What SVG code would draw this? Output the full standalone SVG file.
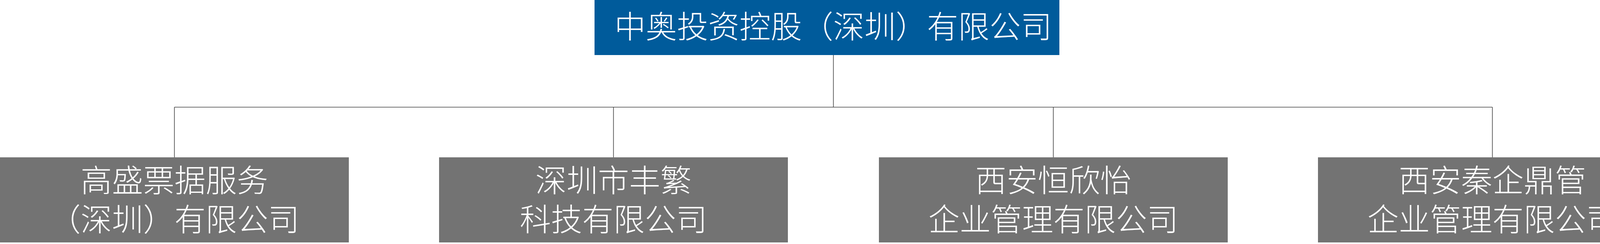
<svg xmlns="http://www.w3.org/2000/svg" width="4267" height="625" viewBox="0 0 4267 625">
<style>
.top{fill:#005B9B}
.sub{fill:#737373}
.t{font-family:"Noto Sans CJK SC","Noto Sans CJK JP",sans-serif;font-weight:300;font-size:80px;fill:#FFFFFF;text-anchor:middle}
.c{stroke:#404040;stroke-width:1.6;fill:none}
</style>
<rect width="4267" height="625" fill="#FFFFFF"/>
<g id="connectors">
<path class="c" d="M2133.5 141V274.5"/>
<path class="c" d="M446.5 274.5H3820.5"/>
<path class="c" d="M446.5 274.5V403"/>
<path class="c" d="M1570.5 274.5V403"/>
<path class="c" d="M2696.5 274.5V403"/>
<path class="c" d="M3820.5 274.5V403"/>
</g>
<g id="node-root">
<rect class="top" x="1522" y="0" width="1190" height="141"/>
<text class="t" x="2133" y="97">中奥投资控股（深圳）有限公司</text>
</g>
<g id="node-gaosheng">
<rect class="sub" x="0" y="403" width="893" height="218"/>
<text class="t"><tspan x="446.5" y="491">高盛票据服务</tspan><tspan x="446.5" y="591">（深圳）有限公司</tspan></text>
</g>
<g id="node-fengfan">
<rect class="sub" x="1124" y="403" width="893" height="218"/>
<text class="t"><tspan x="1570.5" y="491">深圳市丰繁</tspan><tspan x="1570.5" y="591">科技有限公司</tspan></text>
</g>
<g id="node-hengxinyi">
<rect class="sub" x="2250" y="403" width="893" height="218"/>
<text class="t"><tspan x="2696.5" y="491">西安恒欣怡</tspan><tspan x="2696.5" y="591">企业管理有限公司</tspan></text>
</g>
<g id="node-qinqiding">
<rect class="sub" x="3374" y="403" width="893" height="218"/>
<text class="t"><tspan x="3820.5" y="491">西安秦企鼎管</tspan><tspan x="3820.5" y="591">企业管理有限公司</tspan></text>
</g>
</svg>
